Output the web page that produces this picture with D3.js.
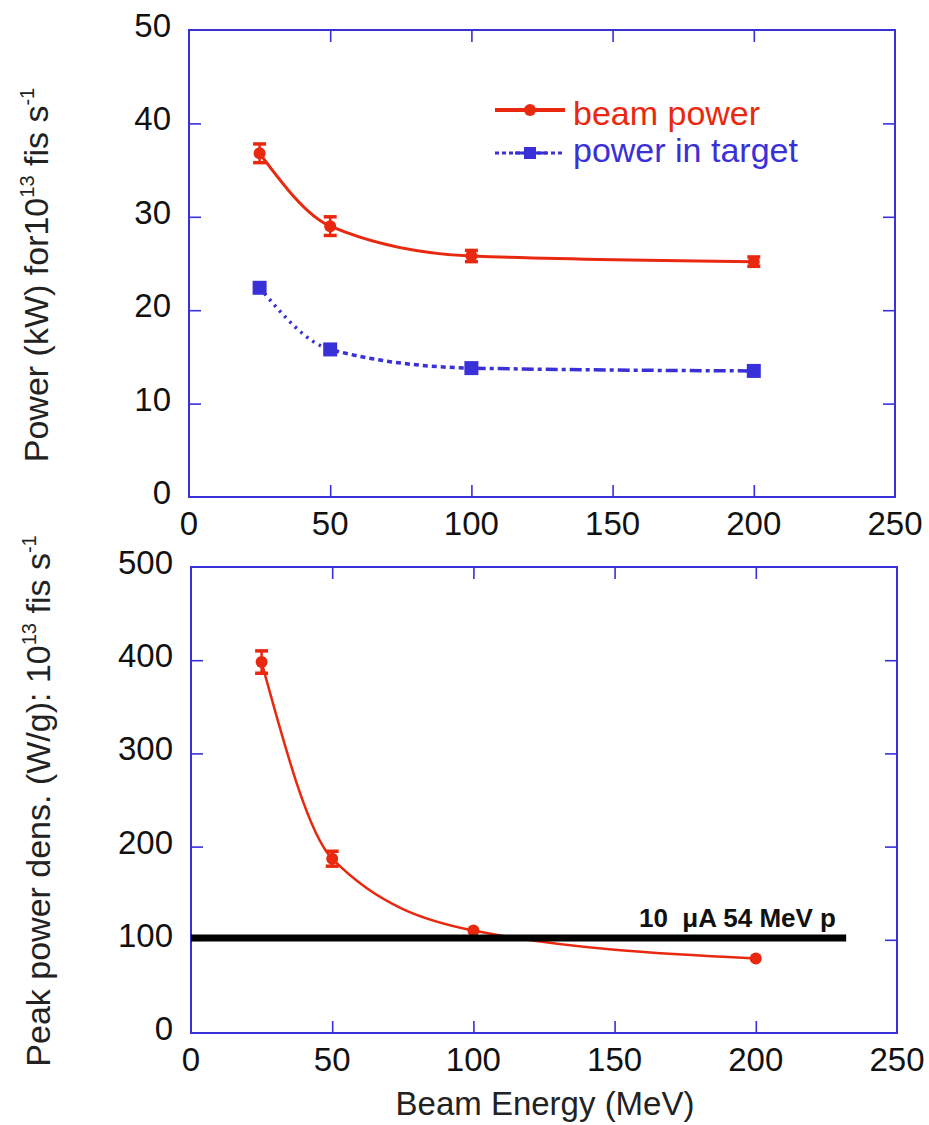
<!DOCTYPE html>
<html><head><meta charset="utf-8">
<script src="https://cdn.jsdelivr.net/npm/d3@7"></script>
<style>
html,body{margin:0;padding:0;background:#fff;}
text{font-family:"Liberation Sans", Arial, sans-serif;}
</style></head>
<body>
<svg id="chart" width="929" height="1125"></svg>
<script>
// ---- data ----
const energy = [25, 50, 100, 200];
const beamPower = [36.8, 29.0, 25.8, 25.2];
const beamPowerErr = [1.0, 1.0, 0.6, 0.5];
const targetPower = [22.4, 15.8, 13.8, 13.5];
const peakDensity = [398, 187, 110, 80];
const peakDensityErr = [12, 8, 0, 0];
const refLineValue = 102;
const refLineExtent = [0, 232];
const refLabel = "10  \u03BCA 54 MeV p";
const xTicks = [0, 50, 100, 150, 200, 250];
const topYTicks = [0, 10, 20, 30, 40, 50];
const botYTicks = [0, 100, 200, 300, 400, 500];
const legendLabels = ["beam power", "power in target"];

const RED = "#e8290f", BLUE = "#3a30d8";
const svg = d3.select("#chart");

function panel(top, bottom, left, right, yMax, yTicks) {
  const x = d3.scaleLinear().domain([0, 250]).range([left, right]);
  const y = d3.scaleLinear().domain([0, yMax]).range([bottom, top]);
  const g = svg.append("g");
  g.append("rect").attr("x", left).attr("y", top).attr("width", right - left).attr("height", bottom - top)
    .attr("fill", "none").attr("stroke", BLUE).attr("stroke-width", 2);
  const tl = 12;
  const inner = xTicks.filter(d => d > 0 && d < 250);
  const innerY = yTicks.filter(d => d > 0 && d < yMax);
  const ax = (gen, tr) => {
    const a = g.append("g").attr("transform", tr).call(gen);
    a.select(".domain").remove();
    a.selectAll("line").attr("stroke", BLUE).attr("stroke-width", 1.6);
    return a;
  };
  ax(d3.axisBottom(x).tickValues(inner).tickSize(-tl).tickFormat(""), `translate(0,${bottom})`);
  ax(d3.axisTop(x).tickValues(inner).tickSize(-tl).tickFormat(""), `translate(0,${top})`);
  ax(d3.axisLeft(y).tickValues(innerY).tickSize(-tl).tickFormat(""), `translate(${left},0)`);
  ax(d3.axisRight(y).tickValues(innerY).tickSize(-tl).tickFormat(""), `translate(${right},0)`);
  g.selectAll(".xl").data(xTicks).enter().append("text")
    .attr("x", d => x(d)).attr("y", bottom + 38).attr("text-anchor", "middle")
    .attr("font-size", 33).attr("fill", "#111").text(d => d);
  g.selectAll(".yl").data(yTicks).enter().append("text")
    .attr("x", left - 18).attr("y", d => y(d) + 7).attr("text-anchor", "end")
    .attr("font-size", 33).attr("fill", "#111").text(d => d);
  return {x, y, g};
}

function yTitle(g, xPos, yCenter, main) {
  const t = g.append("text").attr("transform", `translate(${xPos},${yCenter}) rotate(-90)`)
    .attr("text-anchor", "middle").attr("font-size", 34).attr("fill", "#222");
  t.append("tspan").text(main);
  t.append("tspan").attr("font-size", 20).attr("dy", -14).text("13");
  t.append("tspan").attr("dy", 14).text(" fis s");
  t.append("tspan").attr("font-size", 20).attr("dy", -14).text("-1");
}

function errorBars(g, x, y, xs, ys, es, color, sw) {
  xs.forEach((xv, i) => {
    if (!es[i]) return;
    const cx = x(xv), y1 = y(ys[i] - es[i]), y2 = y(ys[i] + es[i]);
    g.append("line").attr("x1", cx).attr("x2", cx).attr("y1", y1).attr("y2", y2).attr("stroke", color).attr("stroke-width", sw);
    [y1, y2].forEach(yy => g.append("line").attr("x1", cx - 6.5).attr("x2", cx + 6.5).attr("y1", yy).attr("y2", yy)
      .attr("stroke", color).attr("stroke-width", 3.5));
  });
}

// ---------- top panel ----------
const P1 = panel(30, 497, 189, 895, 50, topYTicks);
yTitle(P1.g, 48, 275, "Power (kW) for10");
const lineTop = d3.line().x(d => P1.x(d[0])).y(d => P1.y(d[1])).curve(d3.curveMonotoneX);
const beamPts = energy.map((e, i) => [e, beamPower[i]]);
const tgtPts = energy.map((e, i) => [e, targetPower[i]]);

const defs = svg.append("defs");
const segs = [[0, 50, "2.5,5"], [50, 100, "5,4"], [100, 250, "12,4,4,4"]];
segs.forEach((s, i) => {
  defs.append("clipPath").attr("id", "seg" + i).append("rect")
    .attr("x", P1.x(s[0])).attr("y", 0).attr("width", P1.x(s[1]) - P1.x(s[0])).attr("height", 1125);
  P1.g.append("path").datum(tgtPts).attr("d", lineTop).attr("fill", "none")
    .attr("stroke", BLUE).attr("stroke-width", 3.5).attr("stroke-dasharray", s[2])
    .attr("clip-path", `url(#seg${i})`);
});
P1.g.selectAll(".tsq").data(tgtPts).enter().append("rect")
  .attr("x", d => P1.x(d[0]) - 7).attr("y", d => P1.y(d[1]) - 7).attr("width", 14).attr("height", 14).attr("fill", BLUE);

P1.g.append("path").datum(beamPts).attr("d", lineTop).attr("fill", "none").attr("stroke", RED).attr("stroke-width", 3);
errorBars(P1.g, P1.x, P1.y, energy, beamPower, beamPowerErr, RED, 2.5);
P1.g.selectAll(".bc").data(beamPts).enter().append("circle")
  .attr("cx", d => P1.x(d[0])).attr("cy", d => P1.y(d[1])).attr("r", 6).attr("fill", RED);

// legend
const lg = P1.g.append("g");
lg.append("line").attr("x1", 495).attr("x2", 565).attr("y1", 110).attr("y2", 110).attr("stroke", RED).attr("stroke-width", 4);
lg.append("circle").attr("cx", 530).attr("cy", 110).attr("r", 6).attr("fill", RED);
lg.append("text").attr("x", 573).attr("y", 125).attr("font-size", 34).attr("fill", RED).text(legendLabels[0]);
lg.append("line").attr("x1", 495).attr("x2", 565).attr("y1", 153).attr("y2", 153).attr("stroke", BLUE).attr("stroke-width", 3).attr("stroke-dasharray", "4,3");
lg.append("line").attr("x1", 515).attr("x2", 547).attr("y1", 153).attr("y2", 153).attr("stroke", BLUE).attr("stroke-width", 3);
lg.append("rect").attr("x", 524).attr("y", 147).attr("width", 12).attr("height", 12).attr("fill", BLUE);
lg.append("text").attr("x", 573).attr("y", 162).attr("font-size", 34).attr("fill", BLUE).text(legendLabels[1]);

// ---------- bottom panel ----------
const P2 = panel(567, 1033, 191, 897, 500, botYTicks);
yTitle(P2.g, 50, 801, "Peak power dens. (W/g): 10");
const densPts = energy.map((e, i) => [e, peakDensity[i]]);
const lineBot = d3.line().x(d => P2.x(d[0])).y(d => P2.y(d[1])).curve(d3.curveMonotoneX);
P2.g.append("path").datum(densPts).attr("d", lineBot).attr("fill", "none").attr("stroke", RED).attr("stroke-width", 2.5);
errorBars(P2.g, P2.x, P2.y, energy, peakDensity, peakDensityErr, RED, 2.5);
P2.g.selectAll(".dc").data(densPts).enter().append("circle")
  .attr("cx", d => P2.x(d[0])).attr("cy", d => P2.y(d[1])).attr("r", 6).attr("fill", RED);
P2.g.append("line").attr("x1", P2.x(refLineExtent[0])).attr("x2", P2.x(refLineExtent[1]))
  .attr("y1", P2.y(refLineValue)).attr("y2", P2.y(refLineValue)).attr("stroke", "#000").attr("stroke-width", 7);
P2.g.append("text").attr("x", 836).attr("y", 927).attr("text-anchor", "end").attr("font-size", 26)
  .attr("font-weight", "bold").style("white-space", "pre").attr("fill", "#111").text(refLabel);

svg.append("text").attr("x", 545).attr("y", 1115).attr("text-anchor", "middle").attr("font-size", 33)
  .attr("fill", "#222").text("Beam Energy (MeV)");
</script>
</body></html>
